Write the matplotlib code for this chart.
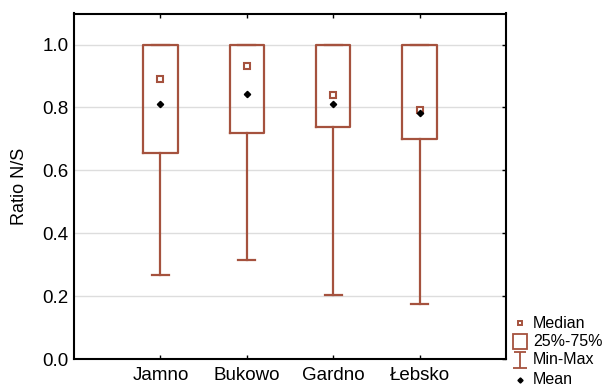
import matplotlib
matplotlib.use("Agg")
import matplotlib.pyplot as plt
from matplotlib.lines import Line2D
from matplotlib.patches import Rectangle
from matplotlib.path import Path

plt.rcParams['font.family'] = ['Liberation Sans', 'DejaVu Sans']

lakes = ["Jamno", "Bukowo", "Gardno", "Łebsko"]
q1 = [0.656, 0.719, 0.737, 0.700]
q3 = [1.0, 1.0, 1.0, 1.0]
medians = [0.890, 0.931, 0.840, 0.791]
means = [0.810, 0.843, 0.810, 0.783]
mins = [0.268, 0.316, 0.202, 0.174]
maxs = [1.0, 1.0, 1.0, 1.0]
yticks = [0.0, 0.2, 0.4, 0.6, 0.8, 1.0]

brown = "#a5523e"
W, H = 608, 387
fig = plt.figure(figsize=(W / 100, H / 100), dpi=100)
ax = fig.add_axes([74 / W, 1 - 359 / H, (506 - 74) / W, (359 - 13.5) / H])

positions = list(range(len(lakes)))
stats = [dict(med=m, q1=a, q3=b, whislo=lo, whishi=hi, label=n)
         for n, m, a, b, lo, hi in zip(lakes, medians, q1, q3, mins, maxs)]
ax.bxp(stats, positions=positions, widths=0.4, capwidths=0.2,
       showfliers=False, patch_artist=False,
       boxprops=dict(color=brown, linewidth=1.6),
       whiskerprops=dict(color=brown, linewidth=1.6),
       capprops=dict(color=brown, linewidth=1.6),
       medianprops=dict(linestyle='none'))
ax.plot(positions, medians, linestyle='none', marker='s', ms=4.5,
        mfc='white', mec=brown, mew=1.5, zorder=4)
ax.plot(positions, means, linestyle='none', marker='D', ms=3.2,
        color='black', zorder=5)

ax.set_xlim(-1, len(lakes))
ax.set_ylim(0, 1.0986)
ax.set_yticks(yticks)
ax.set_yticklabels([f"{v:.1f}" for v in yticks])
ax.set_xticks(positions)
ax.set_xticklabels(lakes)
ax.tick_params(axis='both', labelsize=13.5, direction='in', length=3,
               width=1, top=True, right=True, left=False, pad=4)
ax.tick_params(axis='x', pad=6)
ax.grid(axis='y', color='#dddddd', linewidth=1)
ax.set_axisbelow(True)
for s in ax.spines.values():
    s.set_linewidth(1.5)
ax.set_ylabel("Ratio N/S", fontsize=13)
ax.yaxis.set_label_coords(-0.106, 0.5)

# legend drawn in figure pixels
def fx(x):
    return x / W

def fy(y):
    return 1 - y / H

tx = 533
mx = 520
rows = [("Median", 324), ("25%-75%", 341.5), ("Min-Max", 360), ("Mean", 379)]
for label, y in rows:
    fig.text(fx(tx), fy(y), label, fontsize=11.5, va='center', ha='left')

fig.add_artist(Line2D([fx(mx)], [fy(323)], marker='s', ms=3.5, mfc='white',
                      mec=brown, mew=1.4, linestyle='none',
                      transform=fig.transFigure))
fig.add_artist(Rectangle((fx(mx - 7), fy(349)), 14 / W, 15 / H, fill=False,
                         edgecolor=brown, linewidth=1.3,
                         transform=fig.transFigure))
cap_path = Path([(-0.9, -1), (0.9, -1), (0, -1), (0, 1), (-0.8, 1), (0.8, 1)],
                [Path.MOVETO, Path.LINETO, Path.MOVETO, Path.LINETO,
                 Path.MOVETO, Path.LINETO])
fig.add_artist(Line2D([fx(mx)], [fy(359.5)], marker=cap_path, ms=11,
                      mfc='none', mec=brown, mew=1.3, linestyle='none',
                      transform=fig.transFigure))
fig.add_artist(Line2D([fx(mx)], [fy(380)], marker='D', ms=2.6,
                      color='black', linestyle='none',
                      transform=fig.transFigure))

fig.savefig("out.png", dpi=100)
